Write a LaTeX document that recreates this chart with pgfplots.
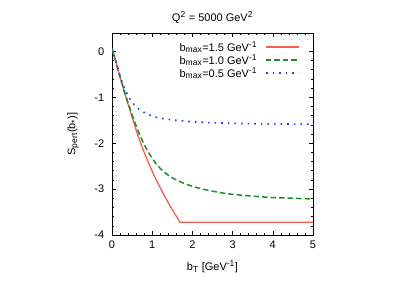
\documentclass[border=0pt]{standalone}
\usepackage{pgfplots}
\pgfplotsset{compat=1.18}
\usepackage{fontspec}
\setmainfont{Liberation Sans}
\definecolor{cred}{RGB}{244,96,78}
\definecolor{cgreen}{RGB}{30,140,50}
\definecolor{cblue}{RGB}{35,55,245}
\newcommand{\sub}[1]{$_{\mbox{\fontsize{8.5}{10}\selectfont #1}}$}
\newcommand{\sups}[1]{$^{\mbox{\fontsize{8.5}{10}\selectfont #1}}$}
\begin{document}
\fontsize{11}{13}\selectfont
\begin{tikzpicture}
\path[use as bounding box] (-112pt,-47pt) rectangle (291pt,235pt);
\begin{axis}[
  scale only axis, width=201pt, height=202pt,
  at={(0,0)}, anchor=south west,
  xmin=0, xmax=5, ymin=-4, ymax=0.4,
  xtick={0,1,2,3,4,5}, ytick={0,-1,-2,-3,-4},
  minor x tick num=4, minor y tick num=4,
  tick align=inside, major tick length=4pt, minor tick length=2pt,
  tick style={black, line width=0.6pt},
  axis line style={line width=0.8pt},
  /pgf/number format/assume math mode=true,
  ticklabel style={font=\fontsize{11}{13}\selectfont},
  xticklabel style={yshift=-2pt},
  yticklabel style={xshift=-4pt},
  title={Q\sups{2} = 5000 GeV\sups{2}},
  title style={font=\fontsize{11}{13}\selectfont, yshift=0pt},
  xlabel={b\sub{T} [GeV\sups{-1}]},
  ylabel={S\sub{pert}(b\sub{*})]},
  label style={font=\fontsize{11}{13}\selectfont},
  xlabel style={yshift=-4pt},
  ylabel style={yshift=8pt},
  legend cell align=right,
  legend plot pos=right,
  legend style={draw=none, fill=none, at={(0.935,0.97)}, anchor=north east,
    inner sep=0pt, row sep=-2.5pt, font=\fontsize{11}{13}\selectfont,
    /tikz/every odd column/.append style={column sep=6pt}},
  legend image code/.code={\draw[#1] plot coordinates {(0pt,0pt) (33pt,0pt)};},
  clip=true,
]
\addplot[cred, line width=1.3pt] coordinates {
(0,0.06) (0.02,0.0) (0.05,-0.09) (0.1,-0.25) (0.2,-0.56) (0.3,-0.87)
(0.4,-1.15) (0.5,-1.43) (0.6,-1.71) (0.7,-1.97) (0.8,-2.20) (0.9,-2.41)
(1.0,-2.61) (1.1,-2.80) (1.2,-2.97) (1.3,-3.14) (1.4,-3.30) (1.5,-3.45)
(1.6,-3.59) (1.69,-3.72) (2,-3.72) (3,-3.72) (4,-3.72) (5,-3.72)};
\addlegendentry{b\sub{max}=1.5 GeV\sups{-1}}
\addplot[cgreen, line width=1.5pt, dash pattern=on 5.5pt off 3pt] coordinates {
(0,0.06) (0.02,0.0) (0.05,-0.09) (0.1,-0.24) (0.2,-0.55) (0.3,-0.85)
(0.4,-1.12) (0.5,-1.38) (0.6,-1.62) (0.7,-1.84) (0.8,-2.03) (0.9,-2.19)
(1.0,-2.33) (1.1,-2.45) (1.2,-2.55) (1.3,-2.63) (1.4,-2.70) (1.5,-2.755)
(1.6,-2.80) (1.8,-2.88) (2.0,-2.94) (2.25,-3.00) (2.5,-3.045) (2.75,-3.085)
(3.0,-3.115) (3.5,-3.155) (4.0,-3.185) (4.5,-3.20) (5.0,-3.215)};
\addlegendentry{b\sub{max}=1.0 GeV\sups{-1}}
\addplot[cblue, line width=1.6pt, dash pattern=on 1.6pt off 5pt] coordinates {
(0,0.06) (0.02,0.0) (0.05,-0.08) (0.1,-0.22) (0.15,-0.38) (0.2,-0.53)
(0.27,-0.72) (0.36,-0.90) (0.45,-1.04) (0.55,-1.16) (0.67,-1.26)
(0.84,-1.35) (1.03,-1.42) (1.24,-1.46) (1.57,-1.50) (2.0,-1.535)
(2.5,-1.555) (3.0,-1.567) (3.5,-1.575) (4.0,-1.58) (4.5,-1.583) (5.0,-1.586)};
\addlegendentry{b\sub{max}=0.5 GeV\sups{-1}}
\end{axis}
\end{tikzpicture}
\end{document}
